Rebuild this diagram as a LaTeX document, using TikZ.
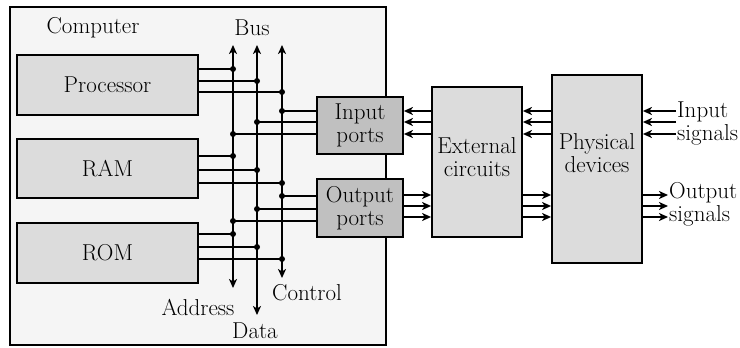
\documentclass[tikz,border=0pt]{standalone}
\usetikzlibrary{arrows.meta}
\definecolor{compBg}{HTML}{F5F5F5}
\definecolor{unitGray}{HTML}{DCDCDC}
\definecolor{portGray}{HTML}{C0C0C0}
\tikzset{
  unitbox/.style={draw,line width=1.8pt,fill=unitGray,inner sep=0pt},
  portbox/.style={unitbox,fill=portGray,align=center},
  busdot/.style={circle,fill,inner sep=0pt,minimum size=6pt},
  wire/.style={line width=1.8pt},
  sig/.style={wire,-{Stealth[length=9pt,width=8pt,inset=2.5pt]}},
  buswire/.style={wire,{Stealth[length=9pt,width=8pt,inset=2.5pt]}-{Stealth[length=9pt,width=8pt,inset=2.5pt]}},
  lbl/.style={inner sep=1pt,align=left},
}

\begin{document}
\begin{tikzpicture}[x=1pt,y=-1pt,font=\fontsize{23}{23}\selectfont]
  \useasboundingbox (0,0) rectangle (740,348);
  \node[draw,line width=1.8pt,fill=compBg,minimum width=376pt,minimum height=338pt] (comp) at (198,176) {};
  \node (complbl) at (93,28) {Computer};
  \node (buslbl) at (252,28) {Bus};

  \node[unitbox,minimum width=181pt,minimum height=60pt] (proc) at (107.5,85) {Processor};
  \node[unitbox,minimum width=181pt,minimum height=59pt] (ram) at (107.5,168.5) {RAM};
  \node[unitbox,minimum width=181pt,minimum height=60pt] (rom) at (107.5,253) {ROM};

  % bus lines
  \coordinate (adrT) at (233,45);  \coordinate (adrB) at (233,288);
  \coordinate (datT) at (257,45);  \coordinate (datB) at (257,315);
  \coordinate (ctlT) at (282,45);  \coordinate (ctlB) at (282,278);
  \draw[buswire] (adrT) -- (adrB);
  \draw[buswire] (datT) -- (datB);
  \draw[buswire] (ctlT) -- (ctlB);
  \node (adrlbl) at (198,307) {Address};
  \node (datlbl) at (255,331) {Data};
  \node (ctllbl) at (307,293) {Control};

  \node[portbox,minimum width=86pt,minimum height=57pt] (inp) at (360,125.5) {Input\\ports};
  \node[portbox,minimum width=86pt,minimum height=58pt] (outp) at (360,208) {Output\\ports};

  % taps onto the bus
  \foreach \y/\b in {69/adrT,81/datT,92/ctlT}
    \draw[wire] (proc.east |- 0,\y) -- (\b |- 0,\y) node[busdot] {};
  \foreach \y/\b in {156/adrT,170/datT,183/ctlT}
    \draw[wire] (ram.east |- 0,\y) -- (\b |- 0,\y) node[busdot] {};
  \foreach \y/\b in {234/adrT,247/datT,259/ctlT}
    \draw[wire] (rom.east |- 0,\y) -- (\b |- 0,\y) node[busdot] {};
  \foreach \y/\b in {111/ctlT,122/datT,134/adrT}
    \draw[wire] (inp.west |- 0,\y) -- (\b |- 0,\y) node[busdot] {};
  \foreach \y/\b in {196/ctlT,209/datT,221/adrT}
    \draw[wire] (outp.west |- 0,\y) -- (\b |- 0,\y) node[busdot] {};

  \node[unitbox,minimum width=90pt,minimum height=150pt] (ext) at (477,162) {};
  \node[align=center] (extlbl) at (477,157) {External\\circuits};
  \node[unitbox,minimum width=90pt,minimum height=188pt] (phys) at (597,169) {};
  \node[align=center] (physlbl) at (597,153) {Physical\\devices};

  \node[lbl,anchor=west] (insig) at (676,123) {Input\\signals};
  \node[lbl,anchor=west] (outsig) at (668,204) {Output\\signals};

  % signal arrows
  \foreach \y in {111,122,134} {
    \draw[sig] (ext.west |- 0,\y) -- (inp.east |- 0,\y);
    \draw[sig] (phys.west |- 0,\y) -- (ext.east |- 0,\y);
    \draw[sig] (insig.west |- 0,\y) -- (phys.east |- 0,\y);
  }
  \foreach \y in {195,206,217} {
    \draw[sig] (outp.east |- 0,\y) -- (ext.west |- 0,\y);
    \draw[sig] (ext.east |- 0,\y) -- (phys.west |- 0,\y);
    \draw[sig] (phys.east |- 0,\y) -- (outsig.west |- 0,\y);
  }
\end{tikzpicture}
\end{document}
